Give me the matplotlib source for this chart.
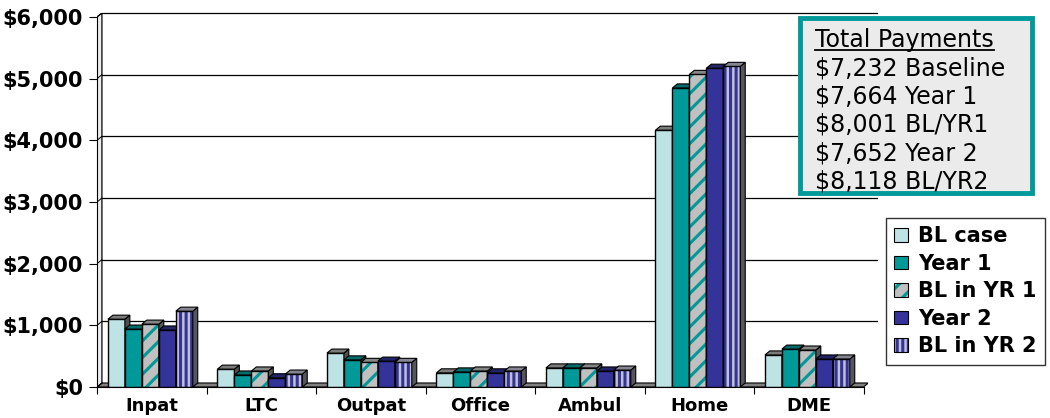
import numpy as np
import matplotlib.pyplot as plt
from matplotlib.patches import Polygon, Rectangle, Patch
from matplotlib.lines import Line2D

plt.rcParams['font.family'] = ['DejaVu Sans']
plt.rcParams['hatch.linewidth'] = 2.2

categories = ["Inpat", "LTC", "Outpat", "Office", "Ambul", "Home", "DME"]
series_names = ["BL case", "Year 1", "BL in YR 1", "Year 2", "BL in YR 2"]
bl_case = [1100, 290, 550, 230, 310, 4165, 520]
year1 = [940, 195, 440, 245, 310, 4850, 615]
bl_yr1 = [1020, 260, 400, 260, 310, 5070, 600]
year2 = [925, 150, 420, 230, 260, 5170, 455]
bl_yr2 = [1230, 210, 400, 260, 275, 5200, 455]
yticks = [0, 1000, 2000, 3000, 4000, 5000, 6000]
totals_title = "Total Payments"
totals_lines = ["$7,232 Baseline", "$7,664 Year 1", "$8,001 BL/YR1",
                "$7,652 Year 2", "$8,118 BL/YR2"]

series = [bl_case, year1, bl_yr1, year2, bl_yr2]
faces = ["#BEE3E4", "#009999", "#C0C0C0", "#333399", "#C0C0D0"]
hatches = [None, None, "//", None, "|||"]
hatch_cols = [None, None, "#009999", None, "#333399"]

# fake 3d depth
dx, dy = 0.045, 65
w, off = 0.155, 0.1

fig = plt.figure(figsize=(10.5, 4.18), dpi=100)
cat_px = 109.5
ax = fig.add_axes([97 / 1050, (418 - 387) / 418, (7 + dx) * cat_px / 1050, 374 / 418])
ax.set_xlim(0, 7 + dx)
ax.set_ylim(0, 6000 + dy)

# back wall grid, floor, side wall
for t in yticks[1:]:
    ax.plot([dx, 7 + dx + 0.08], [t + dy, t + dy], color="black", lw=0.9,
            zorder=1, clip_on=False)
ax.add_patch(Polygon([(0, 0), (7, 0), (7 + dx, dy), (dx, dy)], closed=True,
                     facecolor="#808080", edgecolor="black", lw=0.8, zorder=1.5))
ax.add_patch(Polygon([(0, 0), (dx, dy), (dx, 6000 + dy), (0, 6000)], closed=True,
                     facecolor="#EDEDED", edgecolor="black", lw=0.9, zorder=1.5))
for t in yticks:
    ax.plot([0, dx], [t, t + dy], color="black", lw=0.7, zorder=1.6)


def shade(c, f):
    r, g, b = plt.matplotlib.colors.to_rgb(c)
    return (r * f, g * f, b * f)


for i in range(len(categories)):
    for j, vals in enumerate(series):
        v = vals[i]
        x0 = i + off + j * w
        z = 3 + j
        ax.bar(x0, v, width=w, align="edge", color=faces[j], hatch=hatches[j],
               edgecolor=hatch_cols[j] or faces[j], linewidth=0, zorder=z)
        ax.bar(x0, v, width=w, align="edge", fill=False, edgecolor="black",
               linewidth=1, zorder=z + 0.1)
        base = "#B0B0B0" if j == 0 else faces[j]
        side = [(x0 + w, 0), (x0 + w + dx, dy), (x0 + w + dx, v + dy), (x0 + w, v)]
        top = [(x0, v), (x0 + dx, v + dy), (x0 + w + dx, v + dy), (x0 + w, v)]
        ax.add_patch(Polygon(side, closed=True, facecolor=shade(base, 0.45),
                             edgecolor="black", lw=0.8, zorder=z + 0.2))
        ax.add_patch(Polygon(top, closed=True, facecolor=shade(base, 0.7),
                             edgecolor="black", lw=0.8, zorder=z + 0.2))

for s in ["top", "right"]:
    ax.spines[s].set_visible(False)
ax.spines["left"].set_bounds(0, 6000)
ax.spines["bottom"].set_bounds(0, 7)
ax.spines["left"].set_zorder(20)
ax.spines["bottom"].set_zorder(20)

ax.set_yticks(yticks)
ax.set_yticklabels(["${:,}".format(t) for t in yticks], fontsize=15, fontweight="bold")
ax.tick_params(axis="y", direction="out", length=6, pad=4)
ax.set_xticks(np.arange(8))
ax.set_xticklabels([])
ax.set_xticks(np.arange(7) + 0.5, minor=True)
ax.set_xticklabels(categories, minor=True, fontsize=13, fontweight="bold")
ax.tick_params(axis="x", which="major", direction="out", length=5)
ax.tick_params(axis="x", which="minor", length=0, pad=7)

# legend
handles = []
for j in range(5):
    if hatches[j]:
        h = (Patch(facecolor=faces[j], hatch=hatches[j], edgecolor=hatch_cols[j], lw=0),
             Patch(fill=False, edgecolor="black", lw=0.8))
    else:
        h = Patch(facecolor=faces[j], edgecolor="black", lw=0.8)
    handles.append(h)
leg = fig.legend(handles, series_names, loc="upper left",
                 bbox_to_anchor=(886 / 1050, 1 - 218 / 418),
                 prop={"size": 15, "weight": "bold"}, frameon=True, fancybox=False,
                 handlelength=0.65, handleheight=0.65, handletextpad=0.5,
                 labelspacing=0.36, borderpad=0.4, borderaxespad=0)
leg.get_frame().set_edgecolor("black")
leg.get_frame().set_linewidth(1)

# totals box
fig.add_artist(Rectangle((800 / 1050, 1 - 193 / 418), 232 / 1050, 175 / 418,
                         transform=fig.transFigure, facecolor="#EBEBEB",
                         edgecolor="#009999", lw=3.5, zorder=5))
title = fig.text(815 / 1050, 1 - 40 / 418, totals_title, fontsize=17, va="center",
                 ha="left", zorder=6)
for k, line in enumerate(totals_lines):
    fig.text(815 / 1050, 1 - (68.5 + 28.2 * k) / 418, line, fontsize=17,
             va="center", ha="left", zorder=6)

# underline the title
fig.canvas.draw()
bb = title.get_window_extent(fig.canvas.get_renderer())
fig.add_artist(Line2D([bb.x0 / 1050, bb.x1 / 1050], [1 - 50 / 418, 1 - 50 / 418],
                      transform=fig.transFigure, color="black", lw=1.3, zorder=6))

fig.savefig("out.png", dpi=100)
